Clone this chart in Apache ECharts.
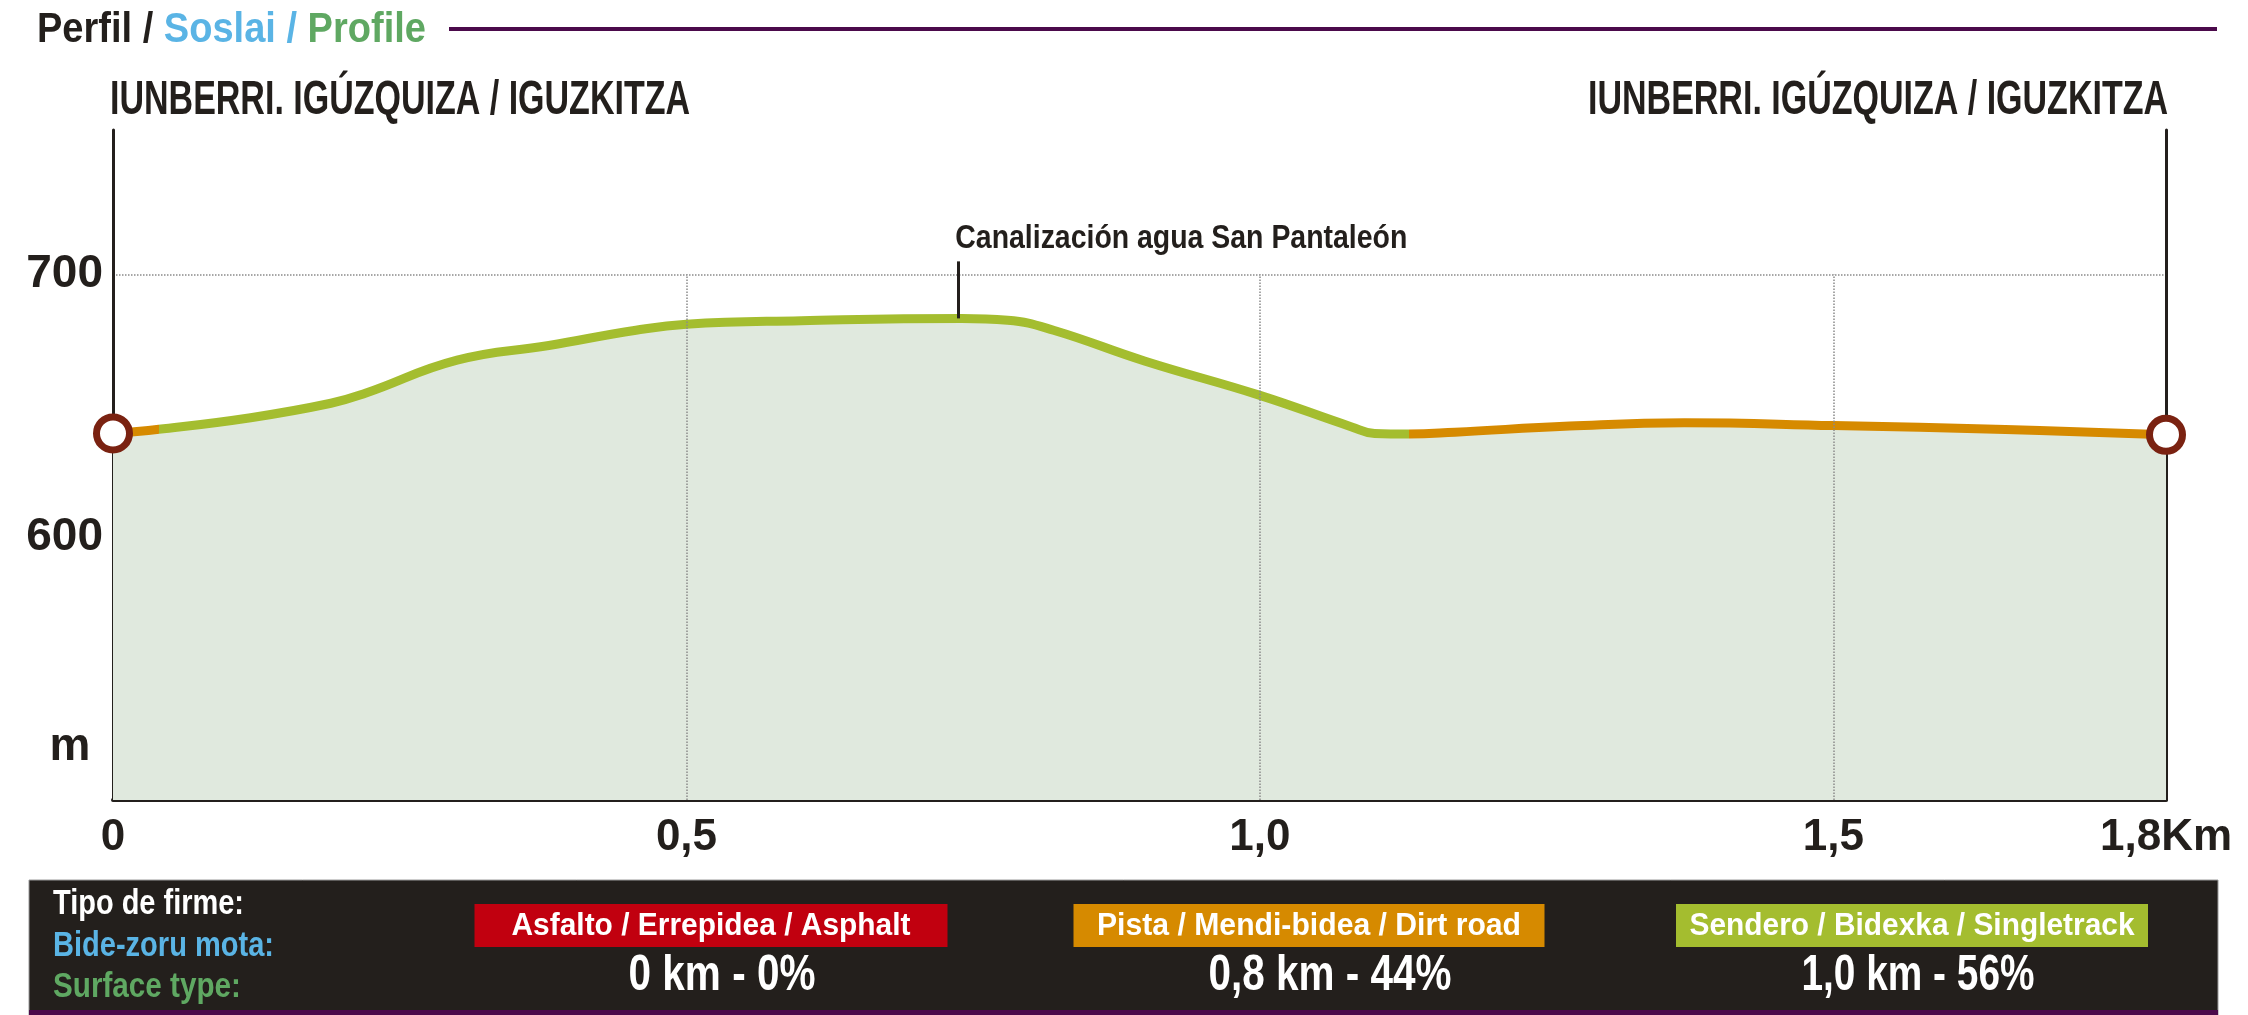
<!DOCTYPE html>
<html>
<head>
<meta charset="utf-8">
<script src="https://cdn.jsdelivr.net/npm/echarts@6/dist/echarts.min.js"></script>
<style>
  html, body { margin: 0; padding: 0; background: #fff; }
  #chart { width: 2248px; height: 1015px; }
</style>
</head>
<body>
<div id="chart"></div>
<script>
// elevation profile (km, m)
var distKm = [0, 0.04, 0.12, 0.19, 0.22, 0.3, 0.38, 0.456, 0.5, 0.6, 0.74, 0.78, 0.82, 0.9, 1.0, 1.08, 1.1, 1.13, 1.17, 1.27, 1.37, 1.5, 1.65, 1.79];
var elevM = [639.5, 641.1, 645.5, 651, 654.8, 667.4, 673, 678.8, 681.1, 682.4, 683.3, 682.6, 678.8, 667, 654, 642, 639.5, 639.3, 640, 642.3, 643.6, 642.5, 641, 639];

// surface type along the track: [from km, to km, type index]
var surfaceSegments = [[0, 0.04, 1], [0.04, 1.13, 2], [1.13, 1.79, 1]];

var xTicks = [0, 0.5, 1.0, 1.5];
var xEndLabel = "1,8Km";
var yTicks = [600, 700];

var placeName = "IUNBERRI. IGÚZQUIZA / IGUZKITZA";
var waypointName = "Canalización agua San Pantaleón";
var waypointKm = 0.737;
var waypointElev = 683.3;

var surfaceNames = ["Asfalto / Errepidea / Asphalt", "Pista / Mendi-bidea / Dirt road", "Sendero / Bidexka / Singletrack"];
var surfaceKm = ["0", "0,8", "1,0"];
var surfacePct = [0, 44, 56];
var surfaceColors = ["#c1000f", "#d68a00", "#a4bd2f"];

var FONT = "'Liberation Sans', Arial, sans-serif";
var DARK = "#231f1c";

// squeeze a text horizontally to the width it has in the print
var measureCtx = document.createElement("canvas").getContext("2d");
function squeeze(text, font, width) {
  measureCtx.font = font;
  return width / measureCtx.measureText(text).width;
}

var chart = echarts.init(document.getElementById("chart"));

var points = [];
for (var i = 0; i < distKm.length; i++) {
  points.push([distKm[i], elevM[i]]);
}
var ends = [points[0], points[points.length - 1]];

var pieces = surfaceSegments.map(function (s) {
  return { gte: s[0], lte: s[1], color: surfaceColors[s[2]] };
});

var vGrid = xTicks.slice(1).map(function (t) {
  return [{ coord: [t, 500] }, { coord: [t, yTicks[yTicks.length - 1]] }];
});

var option = {
  animation: false,
  grid: { left: 113, right: 82, top: 130, bottom: 215 },
  xAxis: {
    type: "value",
    min: 0,
    max: distKm[distKm.length - 1],
    interval: 0.5,
    axisLine: { lineStyle: { color: DARK, width: 4 } },
    axisTick: { show: false },
    splitLine: { show: false },
    axisLabel: {
      margin: 16,
      fontFamily: FONT,
      fontWeight: "bold",
      fontSize: 44,
      color: DARK,
      formatter: function (v) {
        if (v > xTicks[xTicks.length - 1]) return xEndLabel;
        return v === 0 ? "0" : v.toFixed(1).replace(".", ",");
      }
    }
  },
  yAxis: [
    {
      type: "value",
      min: 500,
      max: 755,
      interval: 100,
      axisLine: { show: true, lineStyle: { color: DARK, width: 3 } },
      axisTick: { show: false },
      splitLine: {
        show: true,
        showMinLine: false,
        showMaxLine: false,
        lineStyle: { color: "#8a8a8a", type: "dotted", width: 1.5 }
      },
      axisLabel: {
        margin: 10,
        fontFamily: FONT,
        fontWeight: "bold",
        fontSize: 46,
        color: DARK,
        formatter: function (v) {
          return yTicks.indexOf(v) >= 0 ? String(v) : "";
        }
      }
    },
    {
      type: "value",
      position: "right",
      min: 500,
      max: 755,
      interval: 100,
      axisLine: { show: true, lineStyle: { color: DARK, width: 3 } },
      axisTick: { show: false },
      axisLabel: { show: false },
      splitLine: { show: false }
    }
  ],
  visualMap: {
    show: false,
    type: "piecewise",
    seriesIndex: 0,
    dimension: 0,
    pieces: pieces
  },
  series: [
    {
      type: "line",
      data: points,
      smooth: 0.45,
      symbol: "none",
      lineStyle: { width: 9 },
      areaStyle: { color: "#e0e9de", opacity: 1, origin: "start" },
      z: 3
    },
    {
      type: "scatter",
      data: ends,
      symbol: "circle",
      symbolSize: 33,
      itemStyle: { color: "#fff", borderColor: "#7a2211", borderWidth: 7, opacity: 1 },
      z: 5,
      markLine: {
        silent: true,
        symbol: "none",
        label: { show: false },
        lineStyle: { color: "#8a8a8a", type: "dotted", width: 1.5 },
        data: vGrid.concat([[
          { coord: [waypointKm, waypointElev], lineStyle: { color: DARK, type: "solid", width: 3 } },
          { coord: [waypointKm, 705] }
        ]])
      }
    }
  ]
};
chart.setOption(option);

// texts placed from chart coordinates
var wp = chart.convertToPixel({ gridIndex: 0 }, [waypointKm, 705]);
var mPos = chart.convertToPixel({ gridIndex: 0 }, [0, 520]);

function text(x, y, str, font, fill, align, width) {
  return {
    type: "text", x: x, y: y,
    scaleX: width ? squeeze(str, font, width) : 1,
    style: { text: str, font: font, fill: fill, textAlign: align || "left", textVerticalAlign: "middle" }
  };
}

var titleFont = "bold 42px " + FONT;
var titleText = "Perfil / Soslai / Profile";
var placeFont = "bold 48px " + FONT;

var graphics = [
  {
    type: "text", x: 37, y: 30,
    scaleX: squeeze(titleText, titleFont, 389),
    style: {
      text: "{a|Perfil / }{b|Soslai / }{c|Profile}",
      font: titleFont,
      textVerticalAlign: "middle",
      rich: {
        a: { fill: DARK, font: titleFont },
        b: { fill: "#5ab4e5", font: titleFont },
        c: { fill: "#5fa862", font: titleFont }
      }
    }
  },
  {
    type: "line",
    shape: { x1: 449, y1: 29, x2: 2217, y2: 29 },
    style: { stroke: "#4b0a4b", lineWidth: 4 }
  },
  text(110, 101, placeName, placeFont, DARK, "left", 580),
  text(2168, 101, placeName, placeFont, DARK, "right", 580),
  text(wp[0] - 3, wp[1] - 22, waypointName, "bold 33px " + FONT, DARK, "left", 452),
  text(mPos[0] - 43, mPos[1], "m", "bold 46px " + FONT, DARK, "center"),
  {
    type: "rect",
    shape: { x: 29, y: 880, width: 2189, height: 135 },
    style: { fill: DARK, stroke: "#9a9a9a", lineWidth: 1 }
  },
  {
    type: "rect",
    shape: { x: 29, y: 1010, width: 2189, height: 5 },
    style: { fill: "#4b0a4b" }
  },
  text(53, 904, "Tipo de firme:", "bold 35px " + FONT, "#ffffff", "left", 191),
  text(53, 946, "Bide-zoru mota:", "bold 35px " + FONT, "#5ab4e5", "left", 221),
  text(53, 987, "Surface type:", "bold 35px " + FONT, "#5fa862", "left", 188)
];

var boxCenters = [711, 1309, 1912];
var boxWidths = [473, 471, 472];
var labelWidths = [399, 424, 445];
var valueCenters = [722, 1330, 1918];
var valueWidths = [187, 243, 233];
for (var k = 0; k < surfaceNames.length; k++) {
  graphics.push({
    type: "rect",
    shape: { x: boxCenters[k] - boxWidths[k] / 2, y: 904, width: boxWidths[k], height: 43 },
    style: { fill: surfaceColors[k] }
  });
  graphics.push(text(boxCenters[k], 926, surfaceNames[k], "bold 32px " + FONT, "#ffffff", "center", labelWidths[k]));
  var val = surfaceKm[k] + " km - " + surfacePct[k] + "%";
  graphics.push(text(valueCenters[k], 976, val, "bold 50px " + FONT, "#ffffff", "center", valueWidths[k]));
}

chart.setOption({ graphic: graphics });
</script>
</body>
</html>
